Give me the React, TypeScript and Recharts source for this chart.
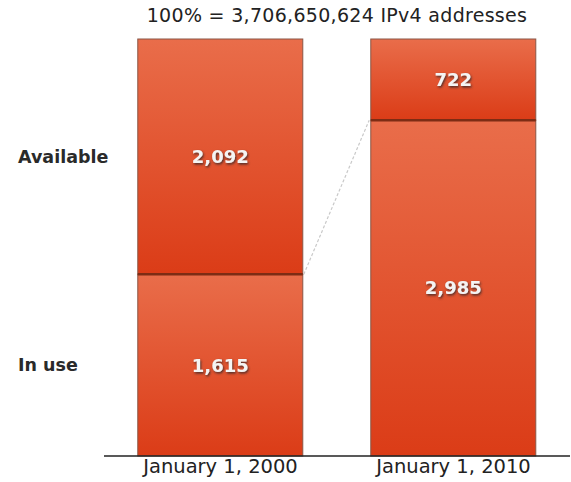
import { Bar, BarChart, LabelList, XAxis, YAxis } from "recharts";

const dates = ["January 1, 2000", "January 1, 2010"];
const inUse = [1615, 2985];
const available = [2092, 722];
const seriesNames = ["In use", "Available"];
const title = "100% = 3,706,650,624 IPv4 addresses";

const data = dates.map((date, i) => ({
  date,
  inUse: inUse[i],
  available: available[i],
}));

const FONT = "'DejaVu Sans', sans-serif";
const GAP = 0.145;

function Segment(props: any) {
  const { x, y, width, height, index, top } = props;
  const shapes = [
    <rect
      key="r"
      x={x}
      y={y}
      width={width}
      height={height}
      fill="url(#segFill)"
      stroke="#8a5646"
      strokeWidth={1}
    />,
  ];
  if (top) {
    shapes.push(
      <line
        key="b"
        x1={x}
        x2={x + width}
        y1={y + height}
        y2={y + height}
        stroke="#7d2c14"
        strokeWidth={2.5}
      />
    );
    // dashed connector between the two "in use" tops
    if (index === 0) {
      const perUnit = height / available[0];
      const bottom = y + height + inUse[0] * perUnit;
      const nextY = bottom - inUse[1] * perUnit;
      const nextX = x + width / (1 - 2 * GAP);
      shapes.push(
        <line
          key="c"
          x1={x + width + 1}
          y1={y + height}
          x2={nextX - 1}
          y2={nextY}
          stroke="#c9c9c9"
          strokeWidth={1.2}
          strokeDasharray="3 2"
        />
      );
    }
  }
  return <g>{shapes}</g>;
}

function SideTick(props: any) {
  const { y, index } = props;
  return (
    <text
      x={18}
      y={y}
      dy="0.35em"
      textAnchor="start"
      fontFamily={FONT}
      fontSize={17.5}
      fontWeight={600}
      fill="#2a2a2a"
    >
      {seriesNames[index]}
    </text>
  );
}

const valueLabel = {
  position: "center" as const,
  fill: "#f4f4f4",
  fontFamily: FONT,
  fontSize: 18,
  fontWeight: 700,
  filter: "url(#txtShadow)",
  formatter: (v: any) => Number(v).toLocaleString("en-US"),
};

export default function App() {
  return (
    <div style={{ position: "absolute", left: 0, top: 0, width: 571, height: 482 }}>
      <div
        style={{
          position: "absolute",
          left: 104,
          width: 466,
          top: 4,
          textAlign: "center",
          fontFamily: FONT,
          fontSize: 19,
          letterSpacing: 0.3,
          color: "#222",
          whiteSpace: "nowrap",
        }}
      >
        {title}
      </div>
      <BarChart
        width={571}
        height={482}
        data={data}
        margin={{ top: 39, right: 1, bottom: 2, left: 0 }}
        barCategoryGap={`${GAP * 100}%`}
      >
        <defs>
          <linearGradient id="segFill" x1="0" y1="0" x2="0" y2="1">
            <stop offset="0%" stopColor="#e96d4a" />
            <stop offset="100%" stopColor="#db3c17" />
          </linearGradient>
          <filter id="txtShadow" x="-20%" y="-20%" width="140%" height="160%">
            <feDropShadow dx="1" dy="1.5" stdDeviation="1" floodColor="#3a2a25" floodOpacity="0.9" />
          </filter>
        </defs>
        <XAxis
          dataKey="date"
          height={24}
          tickLine={false}
          axisLine={{ stroke: "#222", strokeWidth: 1.5 }}
          tick={{ fontFamily: FONT, fontSize: 19.5, fill: "#222" }}
          tickSize={1}
        />
        <YAxis
          type="number"
          width={104}
          domain={[0, "dataMax"]}
          ticks={[inUse[0] / 2, inUse[0] + available[0] / 2]}
          axisLine={false}
          tickLine={false}
          tick={<SideTick />}
        />
        <Bar
          dataKey="inUse"
          stackId="a"
          isAnimationActive={false}
          shape={<Segment top={false} />}
        >
          <LabelList dataKey="inUse" {...valueLabel} />
        </Bar>
        <Bar
          dataKey="available"
          stackId="a"
          isAnimationActive={false}
          shape={<Segment top={true} />}
        >
          <LabelList dataKey="available" {...valueLabel} />
        </Bar>
      </BarChart>
    </div>
  );
}
